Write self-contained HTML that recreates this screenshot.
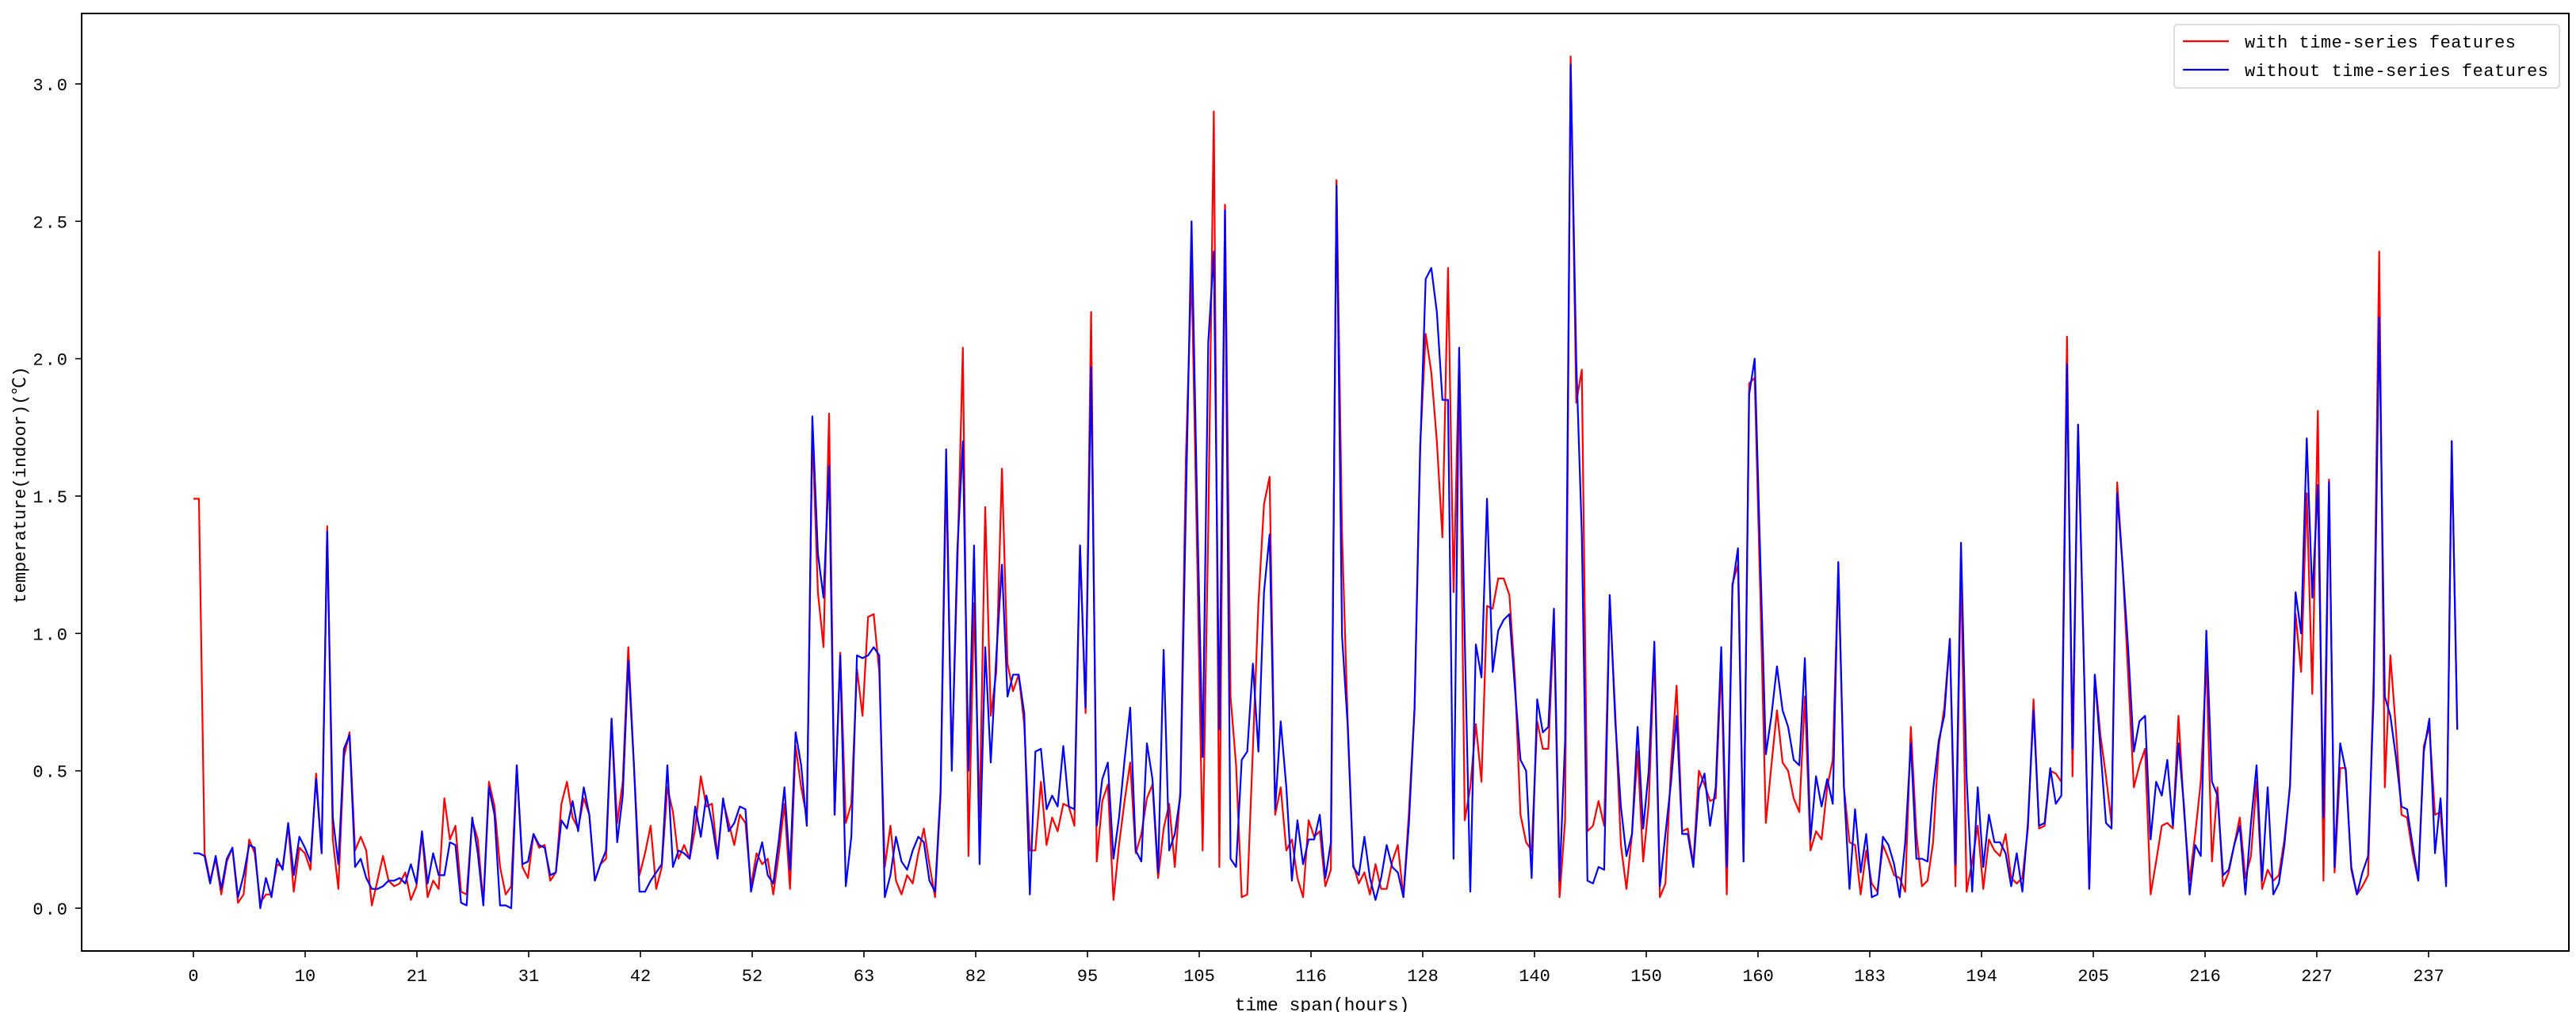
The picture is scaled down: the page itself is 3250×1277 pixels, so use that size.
<!DOCTYPE html>
<html><head><meta charset="utf-8"><style>
html,body{margin:0;padding:0;background:#fff;}
svg{display:block;}
text{font-family:"Liberation Mono","Noto Sans CJK SC",monospace;fill:#000;}
</style></head><body>
<svg id="chart" width="3250" height="1277" viewBox="0 0 3250 1277" xmlns="http://www.w3.org/2000/svg">
<rect x="0" y="0" width="3250" height="1277" fill="#fff"/>
<g id="plot"></g>
<rect x="103" y="17" width="3138" height="1183" fill="none" stroke="#000" stroke-width="2"/>
<g id="ticks"></g>
<text x="1668" y="1277" font-size="23" text-anchor="middle" dy="-2">time span(hours)</text>
<text transform="translate(32,612) rotate(-90)" font-size="22" text-anchor="middle">temperature(indoor)(℃)</text>
<g>
<rect x="2743" y="31" width="486" height="80" rx="4" fill="#fff" stroke="#ddd" stroke-width="2"/>
<line x1="2754" y1="52" x2="2812" y2="52" stroke="#ff0000" stroke-width="2.2"/>
<text x="2832" y="60" font-size="22" textLength="342" lengthAdjust="spacing">with time-series features</text>
<line x1="2754" y1="88" x2="2812" y2="88" stroke="#0000ff" stroke-width="2.2"/>
<text x="2832" y="96" font-size="22" textLength="383" lengthAdjust="spacing">without time-series features</text>
</g>
</svg>
<script>
const xTickLabels = ["0","10","21","31","42","52","63","82","95","105","116","128","140","150","160","183","194","205","216","227","237"];
const yTickValues = [0.0,0.5,1.0,1.5,2.0,2.5,3.0];
const withTS = [1.49,1.49,0.2,0.1,0.18,0.05,0.17,0.22,0.02,0.05,
0.25,0.2,0.02,0.05,0.05,0.16,0.15,0.3,0.06,0.22,
0.2,0.14,0.49,0.2,1.39,0.25,0.07,0.55,0.64,0.21,
0.26,0.21,0.01,0.1,0.19,0.1,0.08,0.09,0.13,0.03,
0.08,0.27,0.04,0.1,0.07,0.4,0.25,0.3,0.06,0.05,
0.32,0.25,0.02,0.46,0.37,0.15,0.05,0.08,0.52,0.15,
0.11,0.27,0.22,
0.23,0.1,0.13,0.38,0.46,0.33,0.29,0.4,0.34,0.1,0.16,0.18,0.69,0.31,0.46,0.95,0.52,0.12,0.2,0.3,0.07,0.15,0.44,0.35,0.18,0.23,0.18,0.29,0.48,0.37,0.38,0.19,0.39,0.31,0.23,0.34,0.31,0.08,0.2,0.16,0.18,0.05,0.2,0.38,0.07,
0.59,0.44,0.33,1.74,1.15,0.95,1.8,0.34,0.93,0.31,0.38,0.87,0.7,1.06,1.07,0.86,0.15,0.3,0.1,0.05,0.12,0.09,0.2,0.29,0.16,0.04,0.41,1.59,0.52,1.24,2.04,0.19,1.11,0.33,1.46,0.7,0.86,1.6,0.89,0.79,0.85,0.67,0.21,
0.21,0.46,0.23,0.33,0.28,0.38,0.37,0.3,1.32,0.71,2.17,0.17,0.39,0.45,0.03,0.23,0.39,0.53,0.2,0.27,0.4,0.45,0.11,0.29,0.38,0.15,0.43,1.64,2.33,1.3,0.21,1.38,2.9,0.15,2.56,0.77,0.52,0.04,0.05,0.58,1.11,1.47,1.57,
0.34,0.44,0.21,0.25,0.11,0.04,0.32,0.26,0.28,0.08,0.14,2.65,1.36,0.69,0.16,0.09,0.13,0.05,0.16,0.07,0.07,0.17,0.23,0.04,0.35,0.73,1.68,2.09,1.95,1.7,1.35,2.33,1.15,2.01,0.32,0.44,0.67,0.46,1.1,1.09,1.2,
1.2,1.14,0.84,0.34,0.24,0.21,0.68,0.58,0.58,1.05,0.04,0.32,3.1,1.84,1.96,0.28,0.3,0.39,0.3,1.13,0.71,0.23,0.07,0.27,0.57,0.17,0.38,0.94,0.04,0.09,0.52,0.81,0.28,0.29,0.16,0.5,0.45,0.39,0.4,0.89,0.05,1.18,1.25,
0.17,1.91,1.93,1.15,0.31,0.52,0.72,0.53,0.5,0.4,0.35,0.77,0.21,0.28,0.25,0.44,0.54,1.24,0.44,0.24,0.23,0.05,0.21,0.09,0.06,0.23,0.18,0.12,0.11,0.06,0.66,0.27,0.08,0.1,0.24,0.59,0.73,0.98,0.08,1.26,0.06,0.17,0.3,0.07,
0.25,0.21,0.19,0.27,0.11,0.09,0.11,0.29,0.76,0.29,0.3,0.5,0.49,0.46,2.08,0.48,1.76,0.92,0.07,0.85,0.63,0.48,0.31,1.55,1.24,0.84,0.44,0.52,0.58,0.05,0.17,0.3,0.31,0.29,0.7,0.35,0.1,0.27,0.46,0.9,0.17,0.44,
0.08,0.13,0.23,0.33,0.11,0.19,0.46,0.07,0.14,0.1,0.12,0.25,0.44,1.07,0.86,1.51,0.78,1.81,0.1,1.56,0.13,0.51,0.51,0.14,0.05,0.08,0.12,0.84,2.39,0.44,0.92,0.65,0.34,0.33,0.2,0.1,0.59,0.66,0.34,0.35,0.09,1.7,0.65];
const withoutTS = [0.2,0.2,0.19,0.09,0.19,0.07,0.18,0.22,0.04,0.12,
0.23,0.22,0.0,0.11,0.04,0.18,0.14,0.31,0.12,0.26,
0.22,0.17,0.47,0.2,1.37,0.33,0.16,0.58,0.63,0.15,
0.18,0.11,0.07,0.07,0.08,0.1,0.1,0.11,0.09,0.16,
0.09,0.28,0.09,0.2,0.12,0.12,0.24,0.23,0.02,0.01,
0.33,0.2,0.01,0.44,0.34,0.01,0.01,0.0,0.52,0.16,
0.17,0.27,0.23,
0.22,0.12,0.13,0.32,0.29,0.39,0.28,0.44,0.34,0.1,0.16,0.21,0.69,0.24,0.41,0.9,0.52,0.06,0.06,0.1,0.13,0.16,0.52,0.15,0.21,0.2,0.18,0.37,0.26,0.41,0.31,0.18,0.4,0.28,0.31,0.37,0.36,0.06,0.16,0.24,0.12,0.09,0.25,0.44,0.14,
0.64,0.52,0.3,1.79,1.29,1.13,1.61,0.34,0.92,0.08,0.26,0.92,0.91,0.92,0.95,0.92,0.04,0.12,0.26,0.17,0.14,0.21,0.26,0.24,0.1,0.06,0.43,1.67,0.5,1.3,1.7,0.5,1.32,0.16,0.95,0.53,0.92,1.25,0.77,0.85,0.85,0.71,0.05,
0.57,0.58,0.36,0.41,0.37,0.59,0.37,0.36,1.32,0.73,1.97,0.3,0.47,0.53,0.18,0.33,0.54,0.73,0.21,0.17,0.6,0.47,0.13,0.94,0.21,0.27,0.41,1.47,2.5,1.47,0.55,2.06,2.39,0.65,2.54,0.18,0.15,0.54,0.57,0.89,0.57,1.15,1.36,
0.36,0.68,0.44,0.1,0.32,0.16,0.25,0.25,0.34,0.11,0.24,2.63,0.99,0.67,0.15,0.12,0.26,0.11,0.03,0.11,0.23,0.15,0.13,0.04,0.31,0.73,1.66,2.29,2.33,2.17,1.85,1.85,0.18,2.04,0.98,0.06,0.96,0.84,1.49,0.86,1.01,
1.05,1.07,0.8,0.54,0.5,0.11,0.76,0.64,0.66,1.09,0.1,0.61,3.07,1.99,1.36,0.1,0.09,0.15,0.14,1.14,0.68,0.37,0.19,0.27,0.66,0.29,0.5,0.97,0.08,0.27,0.46,0.7,0.27,0.27,0.15,0.43,0.49,0.3,0.44,0.95,0.15,1.17,1.31,
0.17,1.87,2.0,1.28,0.56,0.7,0.88,0.72,0.66,0.54,0.52,0.91,0.25,0.48,0.37,0.47,0.38,1.26,0.44,0.07,0.36,0.13,0.27,0.04,0.05,0.26,0.23,0.16,0.04,0.24,0.6,0.18,0.18,0.17,0.43,0.61,0.7,0.98,0.16,1.33,0.48,0.06,0.44,0.15,
0.34,0.24,0.24,0.2,0.08,0.2,0.06,0.31,0.72,0.3,0.31,0.51,0.38,0.41,1.98,0.58,1.76,0.92,0.07,0.85,0.58,0.31,0.29,1.51,1.24,0.94,0.57,0.68,0.7,0.25,0.46,0.41,0.54,0.3,0.6,0.37,0.05,0.23,0.19,1.01,0.46,0.41,
0.12,0.14,0.23,0.3,0.05,0.31,0.52,0.1,0.44,0.05,0.09,0.23,0.45,1.15,1.0,1.71,1.13,1.54,0.33,1.55,0.15,0.6,0.5,0.15,0.05,0.13,0.19,0.77,2.15,0.77,0.7,0.55,0.37,0.36,0.23,0.1,0.57,0.69,0.2,0.4,0.08,1.7,0.65];

const NS = "http://www.w3.org/2000/svg";
const X0 = 244, DX = 7.035, TICK_STEP = 20;
function xPos(i){ return X0 + DX * i; }
function yPos(v){ return 1146 - 346.7 * v; }

const plot = document.getElementById('plot');
function drawSeries(arr, color, name){
  const p = document.createElementNS(NS,'polyline');
  p.setAttribute('points', arr.map((v,i)=>xPos(i).toFixed(1)+','+yPos(v).toFixed(1)).join(' '));
  p.setAttribute('fill','none');
  p.setAttribute('stroke',color);
  p.setAttribute('stroke-width','2.2');
  p.setAttribute('stroke-linejoin','round');
  
  
  plot.appendChild(p);
}
drawSeries(withTS,'#ff0000','series-with-time-series-features');
drawSeries(withoutTS,'#0000ff','series-without-time-series-features');

const ticks = document.getElementById('ticks');
xTickLabels.forEach((lab,k)=>{
  const x = 244 + 141 * k;
  const l = document.createElementNS(NS,'line');
  l.setAttribute('x1',x); l.setAttribute('x2',x);
  l.setAttribute('y1',1200); l.setAttribute('y2',1208);
  l.setAttribute('stroke','#000'); l.setAttribute('stroke-width','1.6');
  
  
  ticks.appendChild(l);
  const t = document.createElementNS(NS,'text');
  t.setAttribute('x',x); t.setAttribute('y',1238);
  t.setAttribute('font-size','22'); t.setAttribute('text-anchor','middle');
  t.textContent = lab;
  
  
  ticks.appendChild(t);
});
yTickValues.forEach(v=>{
  const y = yPos(v);
  const l = document.createElementNS(NS,'line');
  l.setAttribute('x1',95); l.setAttribute('x2',103);
  l.setAttribute('y1',y); l.setAttribute('y2',y);
  l.setAttribute('stroke','#000'); l.setAttribute('stroke-width','1.6');
  
  
  ticks.appendChild(l);
  const t = document.createElementNS(NS,'text');
  t.setAttribute('x',87); t.setAttribute('y',y+8);
  t.setAttribute('font-size','22'); t.setAttribute('text-anchor','end');
  t.setAttribute('letter-spacing','2');
  t.textContent = v.toFixed(1);
  
  
  ticks.appendChild(t);
});
</script>
</body></html>
